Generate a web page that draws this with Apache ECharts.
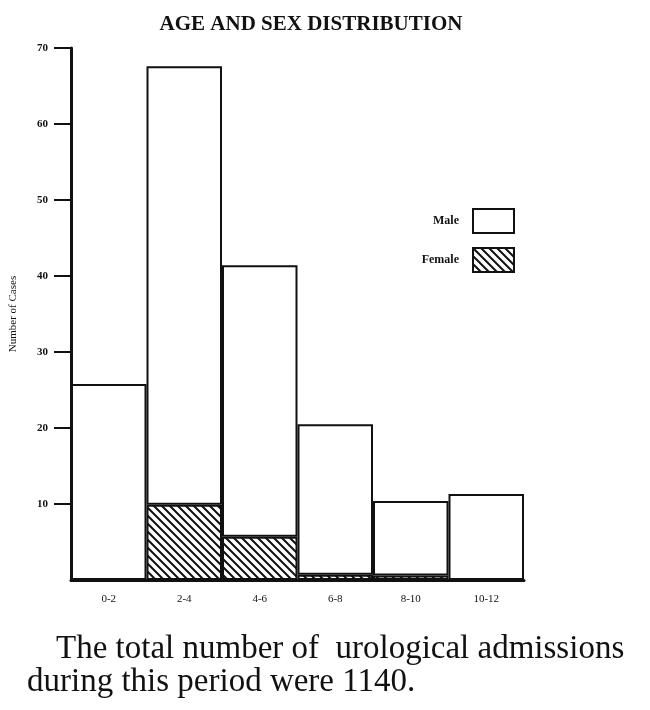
<!DOCTYPE html>
<html>
<head>
<meta charset="utf-8">
<script src="https://cdn.jsdelivr.net/npm/echarts@6/dist/echarts.min.js"></script>
<style>
  html, body { margin: 0; padding: 0; background: #fff; }
  #chart { width: 650px; height: 710px; }
</style>
</head>
<body>
<div id="chart"></div>
<script>
// age groups (years)
const ageGroups = ['0-2', '2-4', '4-6', '6-8', '8-10', '10-12'];
// female cases (hatched, bottom of each bar)
const femaleCases = [0, 9.9, 5.7, 0.7, 0.6, 0];
// male cases (white, stacked on top)
const maleCases = [25.8, 57.7, 35.7, 19.8, 9.8, 11.3];
// labelled ticks on the y axis (no 0)
const yTicks = [10, 20, 30, 40, 50, 60, 70];

const serif = '"Liberation Serif", "DejaVu Serif", serif';

// hatch pattern "\\\"
function hatch() {
    let c = document.createElement('canvas');
    c.width = 8;
    c.height = 8;
    let ctx = c.getContext('2d');
    ctx.fillStyle = '#fff';
    ctx.fillRect(0, 0, 8, 8);
    ctx.strokeStyle = '#111';
    ctx.lineWidth = 2;
    ctx.beginPath();
    ctx.moveTo(-2, -2); ctx.lineTo(10, 10);
    ctx.moveTo(-2, 6); ctx.lineTo(2, 10);
    ctx.moveTo(6, -2); ctx.lineTo(10, 2);
    ctx.stroke();
    return c;
}

let chart = echarts.init(document.getElementById('chart'));

const option = {
    backgroundColor: '#fff',
    animation: false,
    title: {
        text: 'AGE AND SEX DISTRIBUTION',
        left: 306,
        textAlign: 'center',
        top: 9,
        textStyle: { fontFamily: serif, fontWeight: 'bold', fontSize: 21, color: '#111' }
    },
    legend: {
        data: ['Male', 'Female'],
        orient: 'vertical',
        right: 130,
        top: 203,
        align: 'right',
        icon: 'rect',
        itemWidth: 41,
        itemHeight: 24,
        itemGap: 13,
        selectedMode: false,
        textStyle: { fontFamily: serif, fontWeight: 'bold', fontSize: 12, color: '#111', padding: [0, 9, 0, 0] }
    },
    grid: { left: 68, right: 126, top: 48, bottom: 130 },
    xAxis: {
        type: 'category',
        data: ageGroups,
        axisLine: { lineStyle: { color: '#111', width: 3 } },
        axisTick: { show: false },
        axisLabel: { margin: 14, fontFamily: serif, fontSize: 11, color: '#111' }
    },
    yAxis: {
        type: 'value',
        min: 0,
        max: 70,
        interval: 10,
        name: 'Number of Cases',
        nameLocation: 'middle',
        nameGap: 52,
        nameTextStyle: { fontFamily: serif, fontSize: 11, color: '#111' },
        axisLine: { show: true, lineStyle: { color: '#111', width: 3 } },
        axisTick: { show: true, customValues: yTicks, length: 17, lineStyle: { color: '#111', width: 2 } },
        axisLabel: {
            customValues: yTicks,
            margin: 23,
            fontFamily: serif,
            fontWeight: 'bold',
            fontSize: 11,
            color: '#111'
        },
        splitLine: { show: false }
    },
    series: [
        {
            name: 'Female',
            type: 'bar',
            stack: 'cases',
            barCategoryGap: 0,
            data: femaleCases,
            itemStyle: {
                color: { image: hatch(), repeat: 'repeat' },
                borderColor: '#111',
                borderWidth: 2
            }
        },
        {
            name: 'Male',
            type: 'bar',
            stack: 'cases',
            barCategoryGap: 0,
            data: maleCases,
            itemStyle: { color: '#fff', borderColor: '#111', borderWidth: 2 }
        }
    ],
    graphic: [
        {
            type: 'text',
            left: 56,
            top: 633,
            style: {
                text: 'The total number of  urological admissions',
                fontFamily: serif,
                fontSize: 33,
                fill: '#111'
            }
        },
        {
            type: 'text',
            left: 27,
            top: 666,
            style: {
                text: 'during this period were 1140.',
                fontFamily: serif,
                fontSize: 33,
                fill: '#111'
            }
        }
    ]
};

chart.setOption(option);
</script>
</body>
</html>
